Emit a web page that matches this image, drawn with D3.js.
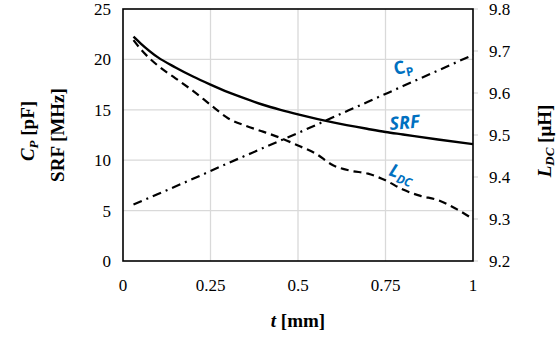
<!DOCTYPE html>
<html>
<head>
<meta charset="utf-8">
<script src="https://cdn.jsdelivr.net/npm/d3@7"></script>
<style>
  body { margin: 0; background: #fff; }
</style>
</head>
<body>
<div id="chart"></div>
<script>
// thickness values (mm)
var tSRF = [0.03, 0.05, 0.1, 0.15, 0.2, 0.25, 0.3, 0.35, 0.4, 0.45, 0.5, 0.6, 0.7, 0.75, 0.8, 0.9, 1.0];
var srf  = [22.25, 21.6, 20.2, 19.2, 18.3, 17.5, 16.75, 16.1, 15.5, 15.0, 14.55, 13.75, 13.1, 12.8, 12.55, 12.05, 11.6];

var tCP = [0.03, 0.1, 0.2, 0.3, 0.4, 0.5, 0.6, 0.7, 0.8, 0.9, 1.0];
var cp  = [5.6, 6.65, 8.15, 9.7, 11.2, 12.7, 14.25, 15.8, 17.35, 18.9, 20.45];

var tLDC = [0.03, 0.05, 0.1, 0.15, 0.2, 0.25, 0.3, 0.35, 0.4, 0.45, 0.5, 0.55, 0.6, 0.65, 0.7, 0.75, 0.8, 0.85, 0.9, 0.95, 1.0];
var ldc  = [9.726, 9.705, 9.665, 9.635, 9.605, 9.572, 9.54, 9.522, 9.508, 9.493, 9.475, 9.456, 9.428, 9.415, 9.408, 9.392, 9.37, 9.355, 9.345, 9.325, 9.30];

var xTicks  = [0, 0.25, 0.5, 0.75, 1];
var yTicks  = [0, 5, 10, 15, 20, 25];
var y2Ticks = [9.2, 9.3, 9.4, 9.5, 9.6, 9.7, 9.8];

var W = 559, H = 340;
var margin = {top: 9, right: 86, bottom: 79, left: 123};
var w = W - margin.left - margin.right;
var h = H - margin.top - margin.bottom;
var serif = "'Liberation Serif', 'Times New Roman', serif";
var sans  = "'Open Sans', Lato, sans-serif";

var x  = d3.scaleLinear().domain([0, 1]).range([0, w]);
var y  = d3.scaleLinear().domain([0, 25]).range([h, 0]);
var y2 = d3.scaleLinear().domain([9.2, 9.8]).range([h, 0]);

var svg = d3.select("#chart").append("svg")
    .attr("width", W).attr("height", H)
    .attr("font-family", serif);
var g = svg.append("g")
    .attr("transform", "translate(" + margin.left + "," + margin.top + ")");

// grid
g.selectAll(".vgrid").data([0.25, 0.5, 0.75]).enter().append("line")
    .attr("x1", d => x(d)).attr("x2", d => x(d))
    .attr("y1", 0).attr("y2", h)
    .attr("stroke", "#d9d9d9").attr("stroke-width", 1.3);
g.selectAll(".hgrid").data([5, 10, 15, 20]).enter().append("line")
    .attr("x1", 0).attr("x2", w)
    .attr("y1", d => y(d)).attr("y2", d => y(d))
    .attr("stroke", "#d9d9d9").attr("stroke-width", 1.3);

// small ticks on right axis
g.selectAll(".rtick").data(y2Ticks).enter().append("line")
    .attr("x1", w).attr("x2", w + 5)
    .attr("y1", d => y2(d)).attr("y2", d => y2(d))
    .attr("stroke", "#d9d9d9").attr("stroke-width", 1.3);

// frame
g.append("rect").attr("x", 0).attr("y", 0).attr("width", w).attr("height", h)
    .attr("fill", "none").attr("stroke", "#000").attr("stroke-width", 1.6);

// tick labels
g.selectAll(".xl").data(xTicks).enter().append("text")
    .attr("x", d => x(d)).attr("y", h + 30)
    .attr("text-anchor", "middle").attr("font-size", 17)
    .attr("font-family", serif)
    .text(d => d);
g.selectAll(".yl").data(yTicks).enter().append("text")
    .attr("x", -12).attr("y", d => y(d) + 6)
    .attr("text-anchor", "end").attr("font-size", 17)
    .attr("font-family", serif)
    .text(d => d);
g.selectAll(".y2l").data(y2Ticks).enter().append("text")
    .attr("x", w + 16).attr("y", d => y2(d) + 6)
    .attr("text-anchor", "start").attr("font-size", 17)
    .attr("font-family", serif)
    .text(d => d3.format(".1f")(d));

// lines
var line = function(ys, sc){
    return d3.line().x(d => x(d)).y((d, i) => sc(ys[i])).curve(d3.curveMonotoneX);
};
g.append("path").datum(tSRF).attr("d", line(srf, y))
    .attr("fill", "none").attr("stroke", "#000").attr("stroke-width", 2.4);
g.append("path").datum(tCP).attr("d", line(cp, y))
    .attr("fill", "none").attr("stroke", "#000").attr("stroke-width", 2.2)
    .attr("stroke-dasharray", "9,5,2,5");
g.append("path").datum(tLDC).attr("d", line(ldc, y2))
    .attr("fill", "none").attr("stroke", "#000").attr("stroke-width", 2.2)
    .attr("stroke-dasharray", "8,5");

// series labels
var blue = "#0070C0";
var lab = function(tx, ty, rot){
    return g.append("text")
        .attr("transform", "translate(" + tx + "," + ty + ") rotate(" + rot + ")")
        .attr("fill", blue).attr("font-weight", "bold")
        .attr("font-family", sans);
};
var t1 = lab(272, 66, -12).attr("font-size", 18);
t1.append("tspan").text("C");
t1.append("tspan").attr("font-size", 12).attr("dy", 4).text("P");

lab(267, 121, -5).attr("font-size", 18).attr("font-style", "italic").text("SRF");

var t3 = lab(265, 166, 20).attr("font-size", 18).attr("font-style", "italic");
t3.append("tspan").text("L");
t3.append("tspan").attr("font-size", 12).attr("dy", 4).text("DC");

// axis titles
var yt1 = svg.append("text")
    .attr("transform", "translate(34," + (margin.top + h / 2 - 4) + ") rotate(-90)")
    .attr("text-anchor", "middle").attr("font-size", 19).attr("font-weight", "bold");
yt1.append("tspan").attr("font-style", "italic").text("C");
yt1.append("tspan").attr("font-style", "italic").attr("font-size", 13).attr("dy", 4).text("P");
yt1.append("tspan").attr("dy", -4).text(" [pF]");

svg.append("text")
    .attr("transform", "translate(64," + (margin.top + h / 2) + ") rotate(-90)")
    .attr("text-anchor", "middle").attr("font-size", 19).attr("font-weight", "bold")
    .text("SRF [MHz]");

var yt2 = svg.append("text")
    .attr("transform", "translate(551," + (margin.top + h / 2 + 6) + ") rotate(-90)")
    .attr("text-anchor", "middle").attr("font-size", 19).attr("font-weight", "bold");
yt2.append("tspan").attr("font-style", "italic").text("L");
yt2.append("tspan").attr("font-style", "italic").attr("font-size", 13).attr("dy", 3).text("DC");
yt2.append("tspan").attr("dy", -3).text("  [μH]");

var xt = svg.append("text")
    .attr("x", margin.left + w / 2).attr("y", 327)
    .attr("text-anchor", "middle").attr("font-size", 19).attr("font-weight", "bold");
xt.append("tspan").attr("font-style", "italic").text("t");
xt.append("tspan").text(" [mm]");
</script>
</body>
</html>
